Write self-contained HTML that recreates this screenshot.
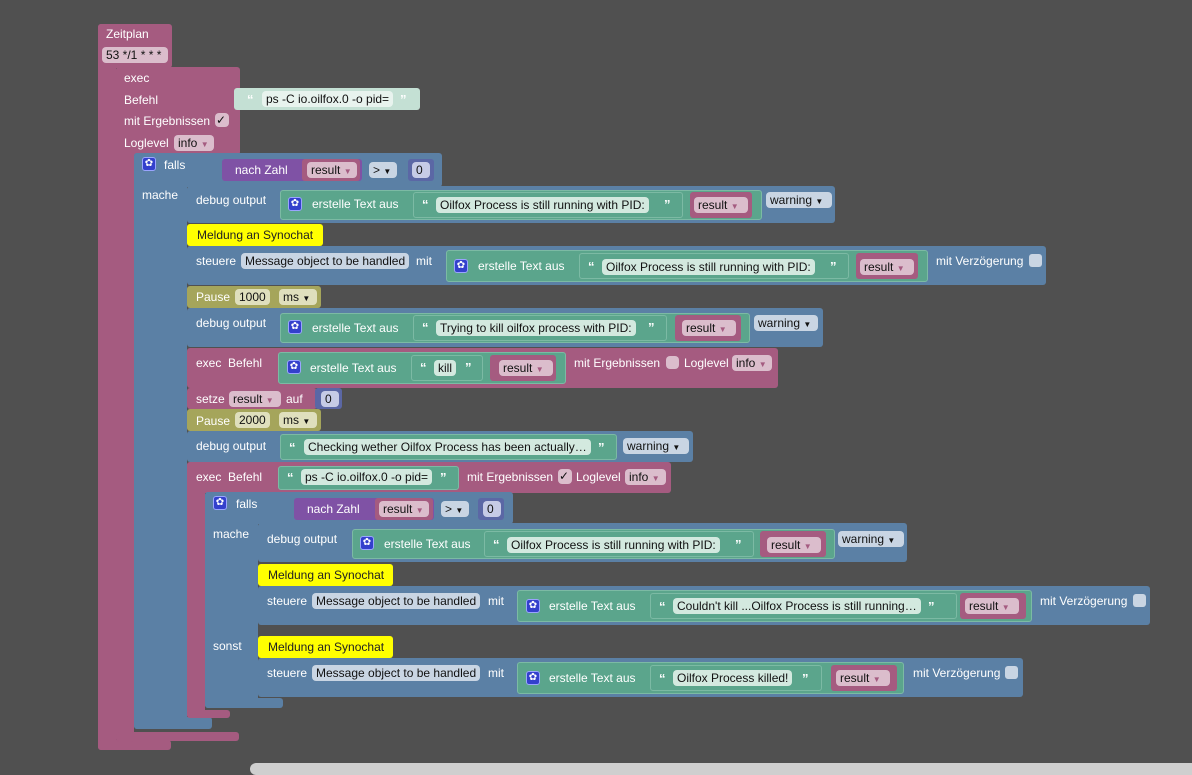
<!DOCTYPE html>
<html><head><meta charset="utf-8"><style>
body{margin:0;width:1192px;height:771px;background:#505050;position:relative;overflow:hidden;font-family:"Liberation Sans",sans-serif;font-size:12px}
.r{position:absolute;border-radius:3px}
.p{background:#a55b80}.bl{background:#5b80a5}.g{background:#5ba58c}.g2{background:#5ba58c;border:1px solid #7cbaa4;box-sizing:border-box}
.pu{background:#7f52a5}.nb{background:#5b67a5}.ol{background:#a5a55b}.y{background:#ffff00}.lg{background:#c4e0d4}
.t{position:absolute;color:#fff;white-space:nowrap;line-height:14px}
.c{position:absolute;height:16px;line-height:16px;border-radius:4px;padding:0 4px;color:#111;white-space:nowrap;box-sizing:border-box}
.cp{background:#dbbdcc}.cg{background:#d3e9df}.cb{background:#c9d5e3}.cn{background:#c6cbe6}.co{background:#dfdfbd}.cy{background:#ffff66}
.ic{position:absolute;width:14px;height:14px;background:#3340cc;border-radius:3px;border:1px solid #9aa4ff;box-sizing:border-box;color:#fff;font-size:10px;line-height:12px;text-align:center}
.q{position:absolute;color:#fff;font-weight:bold;font-size:13px;line-height:14px}
.cb2{position:absolute;width:13px;height:13px;border-radius:3px;background:#c9d5e3}
</style></head><body>
<!-- Zeitplan -->
<div class="r p" style="left:98px;top:24px;width:74px;height:44px"></div>
<div class="r p" style="left:98px;top:24px;width:18px;height:726px"></div>
<div class="r p" style="left:98px;top:740px;width:73px;height:10px"></div>
<div class="t" style="left:106px;top:27px">Zeitplan</div>
<div class="c cp" style="left:102px;top:47px;width:66px">53 */1 * * *</div>
<!-- exec -->
<div class="r p" style="left:116px;top:67px;width:124px;height:88px"></div>
<div class="r p" style="left:116px;top:67px;width:18px;height:675px"></div>
<div class="r p" style="left:116px;top:732px;width:123px;height:9px"></div>
<div class="t" style="left:124px;top:71px">exec</div>
<div class="t" style="left:124px;top:93px">Befehl</div>
<div class="t" style="left:124px;top:114px">mit Ergebnissen</div>
<div class="c cp" style="left:215px;top:113px;width:14px;height:14px;line-height:14px;padding:0 1px">✓</div>
<div class="t" style="left:124px;top:136px">Loglevel</div>
<div class="c cp" style="left:174px;top:135px;width:40px">info <span style="font-size:8px;color:#a55b80">▼</span></div>
<div class="r lg" style="left:234px;top:88px;width:186px;height:22px"></div>
<div class="q" style="left:247px;top:93px;color:#fff">“</div>
<div class="c" style="left:262px;top:91px;background:#e8f3ee">ps -C io.oilfox.0 -o pid=</div>
<div class="q" style="left:400px;top:93px">”</div>
<!-- falls outer -->
<div class="r bl" style="left:134px;top:153px;width:308px;height:34px"></div>
<div class="r bl" style="left:134px;top:153px;width:53px;height:576px"></div>
<div class="r bl" style="left:134px;top:717px;width:78px;height:12px"></div>
<div class="ic" style="left:142px;top:157px">✿</div>
<div class="t" style="left:164px;top:158px">falls</div>
<div class="t" style="left:142px;top:188px">mache</div>
<div class="r pu" style="left:222px;top:159px;width:140px;height:22px"></div>
<div class="t" style="left:235px;top:163px">nach Zahl</div>
<div class="r p" style="left:302px;top:159px;width:58px;height:22px"></div>
<div class="c cp" style="left:307px;top:162px;width:50px">result <span style="font-size:8px;color:#a55b80">▼</span></div>
<div class="c cb" style="left:369px;top:162px;width:28px">&gt; <span style="font-size:8px">▼</span></div>
<div class="r nb" style="left:408px;top:159px;width:26px;height:22px"></div>
<div class="c cn" style="left:412px;top:162px;width:18px">0</div>
<!-- debug 1 -->
<div class="r bl" style="left:187px;top:186px;width:648px;height:37px"></div>
<div class="t" style="left:196px;top:193px">debug output</div>
<div class="r g2" style="left:280px;top:190px;width:482px;height:30px"></div>
<div class="ic" style="left:288px;top:197px">✿</div>
<div class="t" style="left:312px;top:197px">erstelle Text aus</div>
<div class="r g2" style="left:413px;top:192px;width:270px;height:26px"></div>
<div class="q" style="left:422px;top:198px">“</div>
<div class="c cg" style="left:436px;top:197px">Oilfox Process is still running with PID:</div>
<div class="q" style="left:664px;top:198px">”</div>
<div class="r p" style="left:690px;top:192px;width:62px;height:26px"></div>
<div class="c cp" style="left:694px;top:197px;width:54px">result <span style="font-size:8px;color:#a55b80">▼</span></div>
<div class="c cb" style="left:766px;top:192px;width:66px">warning <span style="font-size:8px">▼</span></div>
<!-- Meldung -->
<div class="r y" style="left:187px;top:224px;width:136px;height:22px"></div>
<div class="c" style="left:193px;top:227px;color:#222">Meldung an Synochat</div>
<!-- steuere 1 -->
<div class="r bl" style="left:187px;top:246px;width:859px;height:39px"></div>
<div class="t" style="left:196px;top:254px">steuere</div>
<div class="c cb" style="left:241px;top:253px">Message object to be handled</div>
<div class="t" style="left:416px;top:254px">mit</div>
<div class="r g2" style="left:446px;top:250px;width:482px;height:32px"></div>
<div class="ic" style="left:454px;top:259px">✿</div>
<div class="t" style="left:478px;top:259px">erstelle Text aus</div>
<div class="r g2" style="left:579px;top:253px;width:270px;height:26px"></div>
<div class="q" style="left:588px;top:260px">“</div>
<div class="c cg" style="left:602px;top:259px">Oilfox Process is still running with PID:</div>
<div class="q" style="left:830px;top:260px">”</div>
<div class="r p" style="left:856px;top:253px;width:62px;height:26px"></div>
<div class="c cp" style="left:860px;top:259px;width:54px">result <span style="font-size:8px;color:#a55b80">▼</span></div>
<div class="t" style="left:936px;top:254px">mit Verzögerung</div>
<div class="cb2" style="left:1029px;top:254px"></div>
<!-- Pause 1000 -->
<div class="r ol" style="left:187px;top:286px;width:134px;height:22px"></div>
<div class="t" style="left:196px;top:290px">Pause</div>
<div class="c co" style="left:235px;top:289px">1000</div>
<div class="c co" style="left:279px;top:289px;width:38px">ms <span style="font-size:8px">▼</span></div>
<!-- debug 2 -->
<div class="r bl" style="left:187px;top:308px;width:636px;height:39px"></div>
<div class="t" style="left:196px;top:316px">debug output</div>
<div class="r g2" style="left:280px;top:313px;width:470px;height:30px"></div>
<div class="ic" style="left:288px;top:320px">✿</div>
<div class="t" style="left:312px;top:321px">erstelle Text aus</div>
<div class="r g2" style="left:413px;top:315px;width:254px;height:26px"></div>
<div class="q" style="left:422px;top:321px">“</div>
<div class="c cg" style="left:436px;top:320px">Trying to kill oilfox process with PID:</div>
<div class="q" style="left:648px;top:321px">”</div>
<div class="r p" style="left:675px;top:315px;width:66px;height:26px"></div>
<div class="c cp" style="left:682px;top:320px;width:54px">result <span style="font-size:8px;color:#a55b80">▼</span></div>
<div class="c cb" style="left:754px;top:315px;width:64px">warning <span style="font-size:8px">▼</span></div>
<!-- exec kill -->
<div class="r p" style="left:187px;top:348px;width:591px;height:40px"></div>
<div class="t" style="left:196px;top:356px">exec &nbsp;Befehl</div>
<div class="r g2" style="left:278px;top:352px;width:288px;height:32px"></div>
<div class="ic" style="left:287px;top:360px">✿</div>
<div class="t" style="left:310px;top:361px">erstelle Text aus</div>
<div class="r g2" style="left:411px;top:355px;width:72px;height:26px"></div>
<div class="q" style="left:420px;top:361px">“</div>
<div class="c cg" style="left:434px;top:360px">kill</div>
<div class="q" style="left:465px;top:361px">”</div>
<div class="r p" style="left:490px;top:355px;width:66px;height:26px"></div>
<div class="c cp" style="left:499px;top:360px;width:54px">result <span style="font-size:8px;color:#a55b80">▼</span></div>
<div class="t" style="left:574px;top:356px">mit Ergebnissen</div>
<div class="c cp" style="left:666px;top:356px;width:13px;height:13px"></div>
<div class="t" style="left:684px;top:356px">Loglevel</div>
<div class="c cp" style="left:732px;top:355px;width:40px">info <span style="font-size:8px;color:#a55b80">▼</span></div>
<!-- setze -->
<div class="r p" style="left:187px;top:388px;width:130px;height:21px"></div>
<div class="t" style="left:196px;top:392px">setze</div>
<div class="c cp" style="left:229px;top:391px;width:52px">result <span style="font-size:8px;color:#a55b80">▼</span></div>
<div class="t" style="left:286px;top:392px">auf</div>
<div class="r nb" style="left:315px;top:388px;width:27px;height:21px"></div>
<div class="c cn" style="left:321px;top:391px;width:18px">0</div>
<!-- Pause 2000 -->
<div class="r ol" style="left:187px;top:409px;width:134px;height:22px"></div>
<div class="t" style="left:196px;top:414px">Pause</div>
<div class="c co" style="left:235px;top:412px">2000</div>
<div class="c co" style="left:279px;top:412px;width:38px">ms <span style="font-size:8px">▼</span></div>
<!-- debug 3 -->
<div class="r bl" style="left:187px;top:431px;width:506px;height:31px"></div>
<div class="t" style="left:196px;top:439px">debug output</div>
<div class="r g2" style="left:280px;top:434px;width:337px;height:26px"></div>
<div class="q" style="left:289px;top:441px">“</div>
<div class="c cg" style="left:304px;top:439px">Checking wether Oilfox Process has been actually…</div>
<div class="q" style="left:598px;top:441px">”</div>
<div class="c cb" style="left:623px;top:438px;width:66px">warning <span style="font-size:8px">▼</span></div>
<!-- exec 2 -->
<div class="r p" style="left:187px;top:462px;width:484px;height:31px"></div>
<div class="r p" style="left:187px;top:462px;width:18px;height:256px"></div>
<div class="r p" style="left:187px;top:710px;width:43px;height:8px"></div>
<div class="t" style="left:196px;top:470px">exec &nbsp;Befehl</div>
<div class="r g2" style="left:278px;top:466px;width:181px;height:24px"></div>
<div class="q" style="left:287px;top:471px">“</div>
<div class="c cg" style="left:301px;top:469px">ps -C io.oilfox.0 -o pid=</div>
<div class="q" style="left:440px;top:471px">”</div>
<div class="t" style="left:467px;top:470px">mit Ergebnissen</div>
<div class="c cp" style="left:558px;top:469px;width:14px;height:15px;line-height:15px;padding:0 1px">✓</div>
<div class="t" style="left:576px;top:470px">Loglevel</div>
<div class="c cp" style="left:625px;top:469px;width:41px">info <span style="font-size:8px;color:#a55b80">▼</span></div>
<!-- inner falls -->
<div class="r bl" style="left:205px;top:492px;width:308px;height:32px"></div>
<div class="r bl" style="left:205px;top:492px;width:53px;height:216px"></div>
<div class="r bl" style="left:205px;top:698px;width:78px;height:10px"></div>
<div class="ic" style="left:213px;top:496px">✿</div>
<div class="t" style="left:236px;top:497px">falls</div>
<div class="t" style="left:213px;top:527px">mache</div>
<div class="t" style="left:213px;top:639px">sonst</div>
<div class="r pu" style="left:294px;top:498px;width:140px;height:22px"></div>
<div class="t" style="left:307px;top:502px">nach Zahl</div>
<div class="r p" style="left:375px;top:498px;width:58px;height:22px"></div>
<div class="c cp" style="left:379px;top:501px;width:50px">result <span style="font-size:8px;color:#a55b80">▼</span></div>
<div class="c cb" style="left:441px;top:501px;width:28px">&gt; <span style="font-size:8px">▼</span></div>
<div class="r nb" style="left:478px;top:498px;width:26px;height:22px"></div>
<div class="c cn" style="left:483px;top:501px;width:18px">0</div>
<!-- debug 4 -->
<div class="r bl" style="left:258px;top:523px;width:649px;height:39px"></div>
<div class="t" style="left:267px;top:532px">debug output</div>
<div class="r g2" style="left:352px;top:529px;width:483px;height:30px"></div>
<div class="ic" style="left:360px;top:536px">✿</div>
<div class="t" style="left:384px;top:537px">erstelle Text aus</div>
<div class="r g2" style="left:484px;top:531px;width:270px;height:26px"></div>
<div class="q" style="left:493px;top:538px">“</div>
<div class="c cg" style="left:507px;top:537px">Oilfox Process is still running with PID:</div>
<div class="q" style="left:735px;top:538px">”</div>
<div class="r p" style="left:760px;top:531px;width:66px;height:26px"></div>
<div class="c cp" style="left:767px;top:537px;width:54px">result <span style="font-size:8px;color:#a55b80">▼</span></div>
<div class="c cb" style="left:838px;top:531px;width:66px">warning <span style="font-size:8px">▼</span></div>
<div class="r y" style="left:258px;top:564px;width:135px;height:22px"></div>
<div class="c" style="left:264px;top:567px;color:#222">Meldung an Synochat</div>
<!-- steuere 2 -->
<div class="r bl" style="left:258px;top:586px;width:892px;height:39px"></div>
<div class="t" style="left:267px;top:594px">steuere</div>
<div class="c cb" style="left:312px;top:593px">Message object to be handled</div>
<div class="t" style="left:488px;top:594px">mit</div>
<div class="r g2" style="left:517px;top:590px;width:515px;height:32px"></div>
<div class="ic" style="left:526px;top:599px">✿</div>
<div class="t" style="left:549px;top:599px">erstelle Text aus</div>
<div class="r g2" style="left:650px;top:593px;width:307px;height:26px"></div>
<div class="q" style="left:659px;top:600px">“</div>
<div class="c cg" style="left:673px;top:598px">Couldn't kill ...Oilfox Process is still running…</div>
<div class="q" style="left:928px;top:600px">”</div>
<div class="r p" style="left:960px;top:593px;width:66px;height:26px"></div>
<div class="c cp" style="left:965px;top:598px;width:54px">result <span style="font-size:8px;color:#a55b80">▼</span></div>
<div class="t" style="left:1040px;top:594px">mit Verzögerung</div>
<div class="cb2" style="left:1133px;top:594px"></div>
<!-- sonst -->
<div class="r y" style="left:258px;top:636px;width:135px;height:22px"></div>
<div class="c" style="left:264px;top:639px;color:#222">Meldung an Synochat</div>
<div class="r bl" style="left:258px;top:658px;width:765px;height:39px"></div>
<div class="t" style="left:267px;top:666px">steuere</div>
<div class="c cb" style="left:312px;top:665px">Message object to be handled</div>
<div class="t" style="left:488px;top:666px">mit</div>
<div class="r g2" style="left:517px;top:662px;width:387px;height:32px"></div>
<div class="ic" style="left:526px;top:671px">✿</div>
<div class="t" style="left:549px;top:671px">erstelle Text aus</div>
<div class="r g2" style="left:650px;top:665px;width:172px;height:26px"></div>
<div class="q" style="left:659px;top:672px">“</div>
<div class="c cg" style="left:673px;top:670px">Oilfox Process killed!</div>
<div class="q" style="left:802px;top:672px">”</div>
<div class="r p" style="left:831px;top:665px;width:66px;height:26px"></div>
<div class="c cp" style="left:836px;top:670px;width:54px">result <span style="font-size:8px;color:#a55b80">▼</span></div>
<div class="t" style="left:913px;top:666px">mit Verzögerung</div>
<div class="cb2" style="left:1005px;top:666px"></div>
<!-- scrollbar -->
<div class="r" style="left:250px;top:763px;width:950px;height:12px;background:#cfcfcf;border-radius:6px"></div>
</body></html>
